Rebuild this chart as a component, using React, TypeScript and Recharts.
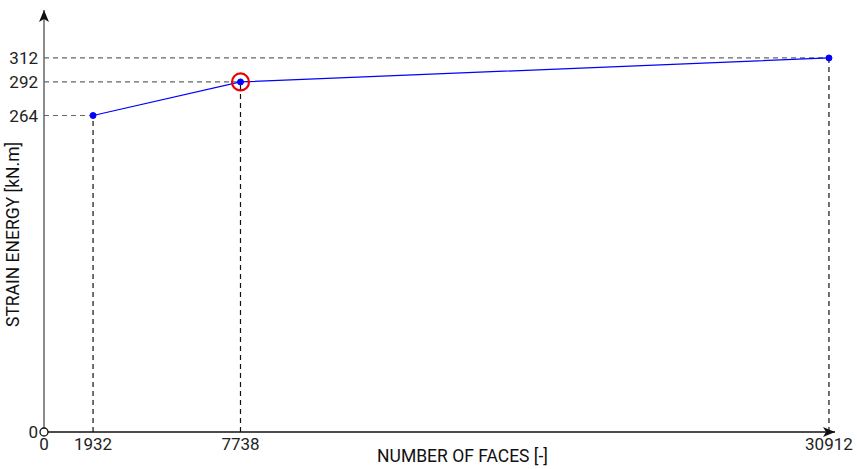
import React from 'react';
import { ComposedChart, Line, XAxis, YAxis, ReferenceLine, ReferenceDot } from 'recharts';

const faces = [1932, 7738, 30912];
const energy = [264, 292, 312];
const xTicks = [0, 1932, 7738, 30912];
const yTicks = [0, 264, 292, 312];
const highlightIndex = 1;
const xAxisEnd = 31150;
const yAxisEnd = 352;

const data = faces.map((f, i) => ({ faces: f, energy: energy[i] }));

const FONT = 'Roboto, sans-serif';

const ArrowLine = (color: string, dir: 'x' | 'y') => (props: any) => {
  const { x1, y1, x2, y2 } = props;
  const head =
    dir === 'x'
      ? `M${x2},${y2} L${x2 - 12},${y2 - 5} L${x2 - 9},${y2} L${x2 - 12},${y2 + 5} Z`
      : `M${x1},${y2} L${x1 - 5},${y2 + 12} L${x1},${y2 + 9} L${x1 + 5},${y2 + 12} Z`;
  return (
    <g>
      <line x1={x1} y1={y1} x2={x2} y2={y2} stroke={color} strokeWidth={1.5} />
      <path d={head} fill="#111" />
    </g>
  );
};

export default function App() {
  return (
    <div style={{ position: 'fixed', left: 0, top: 0, width: 857, height: 469, background: '#fff' }}>
      <ComposedChart
        width={857}
        height={469}
        data={data}
        margin={{ top: 10, right: 22, left: 0, bottom: 0 }}
      >
        <XAxis
          dataKey="faces"
          type="number"
          domain={[0, xAxisEnd]}
          ticks={xTicks}
          interval={0}
          axisLine={false}
          tickLine={false}
          tickSize={4}
          height={37}
          tick={{ fontFamily: FONT, fontSize: 17, fill: '#222' }}
          label={{
            value: 'NUMBER OF FACES [-]',
            position: 'insideBottom',
            offset: 7,
            dx: 23,
            style: { fontFamily: FONT, fontSize: 17.5, fill: '#111' },
          }}
        />
        <YAxis
          type="number"
          domain={[0, yAxisEnd]}
          ticks={yTicks}
          interval={0}
          axisLine={false}
          tickLine={false}
          tickSize={4}
          width={44}
          tick={{ fontFamily: FONT, fontSize: 17, fill: '#222' }}
          label={{
            value: 'STRAIN ENERGY [kN.m]',
            angle: -90,
            position: 'insideLeft',
            offset: 0,
            dx: 13,
            dy: 106,
            style: { fontFamily: FONT, fontSize: 17.5, fill: '#111' },
          }}
        />
        {faces.map((f, i) => (
          <ReferenceLine
            key={'h' + i}
            segment={[{ x: 0, y: energy[i] }, { x: f, y: energy[i] }]}
            stroke="#666"
            strokeDasharray="5 4"
            strokeWidth={1.2}
          />
        ))}
        {faces.map((f, i) => (
          <ReferenceLine
            key={'v' + i}
            segment={[{ x: f, y: 0 }, { x: f, y: energy[i] }]}
            stroke="#111"
            strokeDasharray="5 4"
            strokeWidth={1.2}
          />
        ))}
        <ReferenceLine
          segment={[{ x: 0, y: 0 }, { x: xAxisEnd, y: 0 }]}
          shape={ArrowLine('#111', 'x')}
        />
        <ReferenceLine
          segment={[{ x: 0, y: 0 }, { x: 0, y: yAxisEnd }]}
          shape={ArrowLine('#666', 'y')}
        />
        <Line
          dataKey="energy"
          stroke="#0000ff"
          strokeWidth={1.2}
          dot={{ r: 3, fill: '#0000ff', stroke: '#0000ff', strokeWidth: 1 }}
          isAnimationActive={false}
        />
        <ReferenceDot
          x={faces[highlightIndex]}
          y={energy[highlightIndex]}
          r={8.5}
          fill="none"
          stroke="#ee0000"
          strokeWidth={2.2}
        />
        <ReferenceDot x={0} y={0} r={4} fill="#fff" stroke="#111" strokeWidth={1.3} />
      </ComposedChart>
    </div>
  );
}
